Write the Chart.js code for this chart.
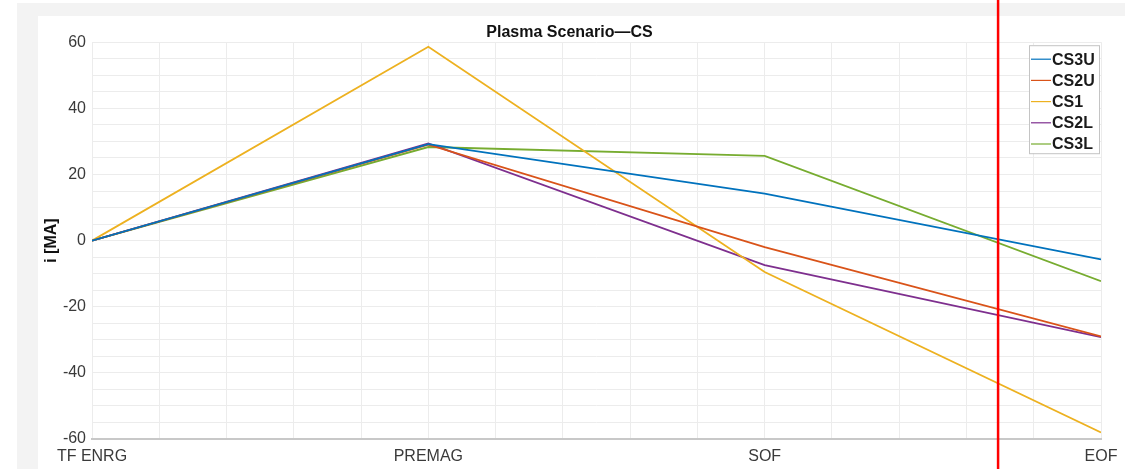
<!DOCTYPE html>
<html>
<head>
<meta charset="utf-8">
<script src="https://cdn.jsdelivr.net/npm/chart.js@4.4.0/dist/chart.umd.min.js"></script>
<style>
  html, body { margin: 0; padding: 0; background: #fff; }
  #wrap { position: relative; width: 1125px; height: 469px; }
</style>
</head>
<body>
<div id="wrap"><canvas id="plasmaChart" width="1125" height="469"></canvas></div>
<script>
// datos
const stages = ['TF ENRG', 'PREMAG', 'SOF', 'EOF'];
const cs3u = [0, 29.2, 14.2, -5.7];
const cs2u = [0, 29.0, -2.0, -29.0];
const cs1  = [0, 58.6, -9.5, -58.0];
const cs2l = [0, 29.4, -7.4, -29.2];
const cs3l = [0, 28.3, 25.6, -12.3];
const yTicks = [-60, -40, -20, 0, 20, 40, 60];
const markerX = 2.694; // linea roja vertical

const seriesNames = ['CS3U', 'CS2U', 'CS1', 'CS2L', 'CS3L'];
const seriesValues = [cs3u, cs2u, cs1, cs2l, cs3l];
const seriesColors = ['#0072BD', '#D95319', '#EDB120', '#7E2F8E', '#77AC30'];

const datasets = seriesNames.map((name, i) => ({
  label: name,
  data: seriesValues[i].map((v, k) => ({ x: k, y: v })),
  borderColor: seriesColors[i],
  backgroundColor: seriesColors[i],
  borderWidth: 1.8,
  pointRadius: 0,
  tension: 0,
  fill: false
}));

// fondo tipo ventana (marco gris)
const framePlugin = {
  id: 'frame',
  beforeDraw(chart) {
    const ctx = chart.ctx;
    ctx.save();
    ctx.fillStyle = '#f3f3f3';
    ctx.fillRect(17, 3, chart.width - 17, chart.height - 3);
    ctx.fillStyle = '#ffffff';
    ctx.fillRect(38, 16, chart.width - 38, chart.height - 16);
    ctx.restore();
  }
};

// leyenda dentro del area del grafico + linea roja
const overlayPlugin = {
  id: 'overlay',
  afterDraw(chart) {
    const ctx = chart.ctx;
    const area = chart.chartArea;
    ctx.save();

    // leyenda
    const boxW = 70, boxH = 108, rowH = 21.2;
    const bx = area.right - boxW - 2;
    const by = area.top + 3;
    ctx.fillStyle = '#ffffff';
    ctx.fillRect(bx, by, boxW, boxH);
    ctx.strokeStyle = '#c4c4c4';
    ctx.lineWidth = 1;
    ctx.strokeRect(bx + 0.5, by + 0.5, boxW, boxH);
    ctx.font = 'bold 16px "Liberation Sans", Arial, sans-serif';
    ctx.textBaseline = 'middle';
    chart.data.datasets.forEach((ds, i) => {
      const cy = by + 14 + i * rowH;
      ctx.strokeStyle = ds.borderColor;
      ctx.lineWidth = 1.2;
      ctx.beginPath();
      ctx.moveTo(bx + 2, cy);
      ctx.lineTo(bx + 22, cy);
      ctx.stroke();
      ctx.fillStyle = '#1a1a1a';
      ctx.fillText(ds.label, bx + 23, cy + 1);
    });

    // linea roja
    const px = chart.scales.x.getPixelForValue(markerX);
    ctx.strokeStyle = '#ff0000';
    ctx.lineWidth = 2.5;
    ctx.beginPath();
    ctx.moveTo(px, 0);
    ctx.lineTo(px, chart.height);
    ctx.stroke();
    ctx.restore();
  }
};

const gridStyle = {
  color: '#ececec',
  lineWidth: 1,
  drawTicks: false
};

new Chart(document.getElementById('plasmaChart').getContext('2d'), {
  type: 'line',
  data: { datasets },
  options: {
    responsive: false,
    animation: false,
    layout: { padding: { left: 38, top: 16, right: 24, bottom: 0 } },
    plugins: {
      legend: { display: false },
      tooltip: { enabled: false },
      title: {
        display: true,
        text: 'Plasma Scenario\u2014CS',
        color: '#111111',
        font: { family: '"Liberation Sans", Arial, sans-serif', size: 16, weight: 'bold' },
        padding: { top: 7, bottom: 0 }
      }
    },
    scales: {
      x: {
        type: 'linear',
        min: 0,
        max: stages.length - 1,
        border: { display: true, color: '#c8c8c8', width: 2 },
        grid: gridStyle,
        ticks: {
          stepSize: 0.2,
          autoSkip: false,
          maxRotation: 0,
          padding: 8,
          color: '#3a3a3a',
          font: { family: '"Liberation Sans", Arial, sans-serif', size: 16 },
          callback: v => {
            const r = Math.round(v);
            return Math.abs(v - r) < 1e-6 ? stages[r] : '';
          }
        },
        afterFit: s => { s.height = 30; s.paddingRight = 0; s.paddingLeft = 0; }
      },
      y: {
        min: yTicks[0],
        max: yTicks[yTicks.length - 1],
        border: { display: false },
        grid: gridStyle,
        title: {
          display: true,
          text: 'i [MA]',
          color: '#111111',
          font: { family: '"Liberation Sans", Arial, sans-serif', size: 16, weight: 'bold' },
          padding: { top: 4, bottom: 0 }
        },
        ticks: {
          stepSize: 5,
          autoSkip: false,
          padding: 6,
          color: '#3a3a3a',
          font: { family: '"Liberation Sans", Arial, sans-serif', size: 16 },
          callback: v => (yTicks.includes(v) ? String(v) : '')
        },
        afterFit: s => { s.width = 54; }
      }
    }
  },
  plugins: [framePlugin, overlayPlugin]
});
</script>
</body>
</html>
